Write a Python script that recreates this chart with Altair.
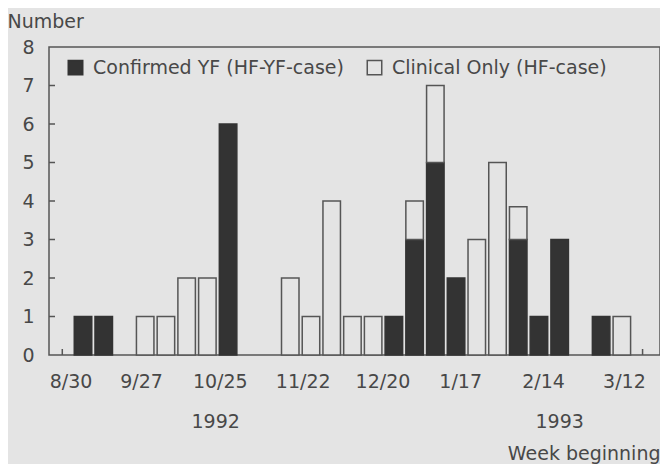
import altair as alt
import pandas as pd

# week index 0 = first bar (week after 8/30 tick)
weeks = list(range(27))
confirmed = [1, 1, 0, 0, 0, 0, 0, 6, 0, 0, 0, 0, 0, 0, 0, 1, 3, 5, 2, 0, 0, 3, 1, 3, 0, 1, 0]
clinical = [0, 0, 0, 1, 1, 2, 2, 0, 0, 0, 2, 1, 4, 1, 1, 0, 1, 2, 0, 3, 5, 0.85, 0, 0, 0, 0, 1]

tick_weeks = [-1, 3, 7, 11, 15, 19, 23, 27]
tick_labels = ["8/30", "9/27", "10/25", "11/22", "12/20", "1/17", "2/14", "3/12"]
label_weeks = [-0.6, 2.8, 6.6, 10.6, 14.45, 18.2, 22.2, 26.1]
years = ["1992", "1993"]
year_weeks = [6.4, 23.0]
y_ticks = [1, 2, 3, 4, 5, 6, 7]

CONF = "Confirmed YF (HF-YF-case)"
CLIN = "Clinical Only (HF-case)"
BG = "#e4e4e4"
INK = "#484848"
FONT = "DejaVu Sans"
FS = 19

rows = []
for w, c, k in zip(weeks, confirmed, clinical):
    if c > 0:
        rows.append({"week": w, "type": CONF, "y0": 0, "y1": c})
    if k > 0:
        rows.append({"week": w, "type": CLIN, "y0": c, "y1": c + k})
bars_df = pd.DataFrame(rows)

xscale = alt.Scale(domain=[-1.4, 27.6], nice=False, zero=False)
yscale = alt.Scale(domain=[0, 8], nice=False)

label_expr = (
    "[" + ",".join("'%s'" % t for t in tick_labels) + "]"
    + "[indexof([" + ",".join(str(v) for v in label_weeks) + "], datum.value)]"
)

xaxis = alt.Axis(
    values=label_weeks,
    labelExpr=label_expr,
    ticks=False,
    domain=False,
    grid=False,
    labelFontSize=FS,
    labelFont=FONT,
    labelColor=INK,
    labelPadding=17,
    labelOverlap=False,
    labelBound=False,
    title="Week beginning",
    titleFont=FONT,
    titleFontSize=FS,
    titleFontWeight="normal",
    titleColor=INK,
    titleAlign="right",
    titleAnchor="end",
    titleX=611,
    titleY=104,
    titleBaseline="alphabetic",
)

yaxis = alt.Axis(
    values=[0, 1, 2, 3, 4, 5, 6, 7, 8],
    ticks=False,
    domain=False,
    grid=False,
    labelFontSize=FS,
    labelFont=FONT,
    labelColor=INK,
    labelPadding=15,
    title="Number",
    titleFont=FONT,
    titleFontSize=FS,
    titleFontWeight="normal",
    titleColor=INK,
    titleAngle=0,
    titleAlign="left",
    titleX=-42,
    titleY=-20,
    titleBaseline="alphabetic",
)

bars = alt.Chart(bars_df).mark_bar(width=17.5, strokeWidth=1.5).encode(
    x=alt.X("week:Q", scale=xscale, axis=xaxis),
    y=alt.Y("y1:Q", scale=yscale, axis=yaxis),
    y2="y0:Q",
    fill=alt.Fill(
        "type:N",
        scale=alt.Scale(domain=[CONF, CLIN], range=["#333333", BG]),
        legend=alt.Legend(
            title=None,
            orient="none",
            legendX=17,
            legendY=11,
            direction="horizontal",
            symbolType="square",
            symbolSize=210,
            symbolStrokeWidth=1.5,
            labelFontSize=FS,
            labelFont=FONT,
            labelColor=INK,
            labelOffset=8,
            labelLimit=0,
            columnPadding=20,
        ),
    ),
    stroke=alt.Stroke(
        "type:N",
        scale=alt.Scale(domain=[CONF, CLIN], range=["#333333", "#555555"]),
        legend=None,
    ),
)

xticks_df = pd.DataFrame({"week": tick_weeks})
xticks = alt.Chart(xticks_df).mark_rule(color="#555555", strokeWidth=1.5).encode(
    x=alt.X("week:Q", scale=xscale, axis=xaxis),
    y=alt.value(308),
    y2=alt.value(302),
)

yticks_df = pd.DataFrame({"y1": y_ticks})
yticks = alt.Chart(yticks_df).mark_rule(color="#555555", strokeWidth=1.5).encode(
    y=alt.Y("y1:Q", scale=yscale, axis=yaxis),
    x=alt.value(0),
    x2=alt.value(6),
)

years_df = pd.DataFrame({"week": year_weeks, "year": years})
year_text = alt.Chart(years_df).mark_text(
    font=FONT, fontSize=FS, color=INK, baseline="alphabetic", align="center"
).encode(
    x=alt.X("week:Q", scale=xscale, axis=xaxis),
    y=alt.value(381),
    text="year:N",
)

chart = alt.layer(xticks, yticks, bars, year_text).properties(
    width=611,
    height=308,
    background=BG,
    autosize=alt.AutoSizeParams(type="none"),
    padding={"left": 41, "top": 39, "right": 0, "bottom": 109},
).configure_view(
    stroke="#555555", strokeWidth=1.5, fill=BG
)

chart.save("out.html", embed_options={"renderer": "svg", "actions": False})
